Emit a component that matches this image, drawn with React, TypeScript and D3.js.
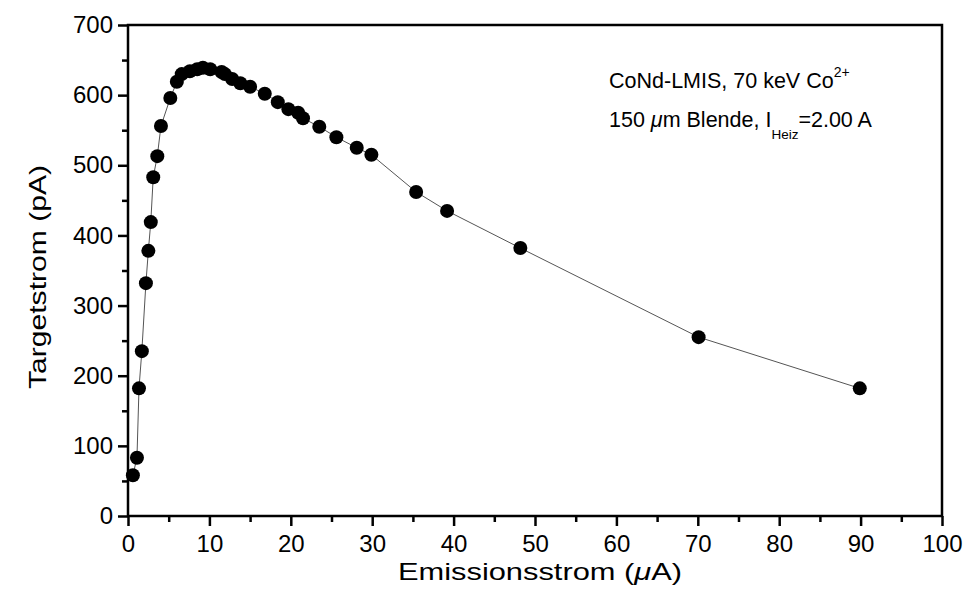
import React, { useEffect, useRef } from 'react';
import * as d3 from 'd3';

// Emissionsstrom (µA) vs Targetstrom (pA)
const emission = [
  0.6, 1.1, 1.35, 1.7, 2.2, 2.5, 2.8, 3.1, 3.6, 4.05, 5.2, 6.0, 6.6, 7.6, 8.5, 9.2,
  10.1, 11.5, 11.9, 12.8, 13.8, 15.0, 16.8, 18.4, 19.7, 20.9, 21.5, 23.5, 25.6,
  28.1, 29.9, 35.4, 39.2, 48.2, 70.1, 89.9,
];
const target = [
  58, 83, 182, 235, 332, 378, 419, 483, 513, 556, 596, 619, 630, 634, 637, 639,
  637, 633, 630, 623, 617, 612, 602, 590, 580, 575, 567, 555, 540,
  525, 515, 462, 435, 382, 255, 182,
];
const xMajor = d3.range(0, 101, 10);
const xMinor = d3.range(5, 100, 10);
const yMajor = d3.range(0, 701, 100);
const yMinor = d3.range(50, 700, 100);

const FONT = '"Liberation Sans", Arial, Helvetica, sans-serif';

export default function App() {
  const svgRef = useRef<SVGSVGElement>(null);
  const width = 966;
  const height = 592;

  useEffect(() => {
    const svg = d3.select(svgRef.current);
    svg.selectAll('*').remove();

    const x = d3.scaleLinear().domain([0, 100]).range([128, 942]);
    const y = d3.scaleLinear().domain([0, 700]).range([516, 25]);

    const points = emission.map((e, i) => ({ e, t: target[i] }));

    // minor ticks
    svg.append('g')
      .attr('transform', `translate(0,${y(0)})`)
      .call(d3.axisBottom(x).tickValues(xMinor).tickSize(6).tickFormat(() => ''))
      .call(g => g.select('.domain').remove())
      .call(g => g.selectAll('line').attr('stroke', '#000').attr('stroke-width', 2.5));
    svg.append('g')
      .attr('transform', `translate(${x(0)},0)`)
      .call(d3.axisLeft(y).tickValues(yMinor).tickSize(6).tickFormat(() => ''))
      .call(g => g.select('.domain').remove())
      .call(g => g.selectAll('line').attr('stroke', '#000').attr('stroke-width', 2.5));

    // major ticks with labels
    svg.append('g')
      .attr('transform', `translate(0,${y(0)})`)
      .call(d3.axisBottom(x).tickValues(xMajor).tickSize(10).tickPadding(9).tickFormat(d3.format('d')))
      .call(g => g.select('.domain').remove())
      .call(g => g.selectAll('line').attr('stroke', '#000').attr('stroke-width', 2.5))
      .call(g => g.selectAll('text')
        .attr('fill', '#000')
        .style('font-family', FONT)
        .style('font-size', '24px'));
    svg.append('g')
      .attr('transform', `translate(${x(0)},0)`)
      .call(d3.axisLeft(y).tickValues(yMajor).tickSize(10).tickPadding(5).tickFormat(d3.format('d')))
      .call(g => g.select('.domain').remove())
      .call(g => g.selectAll('line').attr('stroke', '#000').attr('stroke-width', 2.5))
      .call(g => g.selectAll('text')
        .attr('fill', '#000')
        .style('font-family', FONT)
        .style('font-size', '24px'));

    // frame
    svg.append('rect')
      .attr('x', x(0))
      .attr('y', y(700))
      .attr('width', x(100) - x(0))
      .attr('height', y(0) - y(700))
      .attr('fill', 'none')
      .attr('stroke', '#000')
      .attr('stroke-width', 2.5);

    // connecting line
    const line = d3.line<{ e: number; t: number }>()
      .x(d => x(d.e))
      .y(d => y(d.t));
    svg.append('path')
      .datum(points)
      .attr('d', line)
      .attr('fill', 'none')
      .attr('stroke', '#555')
      .attr('stroke-width', 1);

    // markers
    svg.append('g')
      .selectAll('circle')
      .data(points)
      .enter()
      .append('circle')
      .attr('cx', d => x(d.e))
      .attr('cy', d => y(d.t))
      .attr('r', 7)
      .attr('fill', '#000');

    // axis titles
    svg.append('text')
      .attr('x', 540)
      .attr('y', 580)
      .attr('text-anchor', 'middle')
      .attr('textLength', 284)
      .attr('lengthAdjust', 'spacingAndGlyphs')
      .style('font-family', FONT)
      .style('font-size', '24px')
      .html('Emissionsstrom (<tspan font-style="italic">μ</tspan>A)');

    svg.append('text')
      .attr('transform', 'translate(46,277) rotate(-90)')
      .attr('text-anchor', 'middle')
      .attr('textLength', 224)
      .attr('lengthAdjust', 'spacingAndGlyphs')
      .style('font-family', FONT)
      .style('font-size', '24px')
      .text('Targetstrom (pA)');

    // annotation
    const note = svg.append('g')
      .style('font-family', FONT)
      .style('font-size', '21.5px');
    note.append('text')
      .attr('x', 609)
      .attr('y', 88)
      .html('CoNd-LMIS, 70 keV Co<tspan dy="-11" font-size="14">2+</tspan>');
    note.append('text')
      .attr('x', 609)
      .attr('y', 127)
      .html('150 <tspan font-style="italic">μ</tspan>m Blende, I<tspan dy="12" font-size="13.5">Heiz</tspan><tspan dy="-12">=2.00 A</tspan>');
  }, []);

  return (
    <svg
      ref={svgRef}
      width={width}
      height={height}
      style={{ position: 'absolute', left: 0, top: 0, background: '#fff' }}
    />
  );
}
